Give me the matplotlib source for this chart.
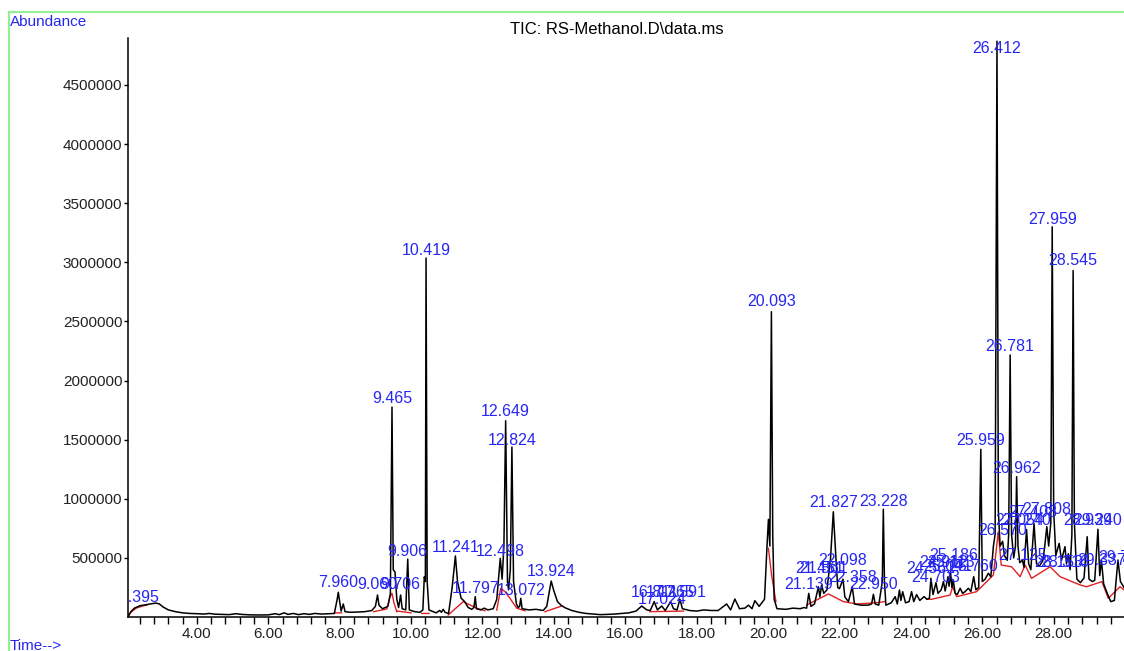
import numpy as np
import matplotlib
matplotlib.use("Agg")
import matplotlib.pyplot as plt
from matplotlib.patches import Rectangle
from matplotlib.ticker import MultipleLocator, FuncFormatter

plt.rcParams['font.family'] = ['Liberation Sans', 'DejaVu Sans']

# TIC trace: retention time (min), abundance (x1000)
trace_t = [2.07, 2.15, 2.25, 2.4, 2.6, 2.85, 2.95, 3.05, 3.2, 3.4, 3.6, 3.8,
           4.0, 4.2, 4.35, 4.5, 4.7, 4.9, 5.1, 5.25, 5.5, 5.8, 6.0, 6.2, 6.3,
           6.45, 6.55, 6.7, 6.85, 7.0, 7.15, 7.3, 7.5, 7.7, 7.85, 7.93, 7.96,
           7.99, 8.04, 8.1, 8.15, 8.3, 8.5, 8.7, 8.9, 9.0, 9.06, 9.1, 9.2,
           9.35, 9.42, 9.465, 9.5, 9.55, 9.6, 9.65, 9.706, 9.75, 9.85, 9.906,
           9.95, 10.1, 10.25, 10.33, 10.37, 10.40, 10.419, 10.45, 10.5, 10.7,
           10.8, 10.85, 10.9, 10.95, 11.05, 11.15, 11.241, 11.3, 11.4, 11.5,
           11.6, 11.7, 11.76, 11.797, 11.83, 11.95, 12.05, 12.15, 12.3, 12.4,
           12.498, 12.55, 12.6, 12.649, 12.7, 12.73, 12.78, 12.824, 12.87,
           12.95, 13.0, 13.04, 13.072, 13.11, 13.3, 13.5, 13.7, 13.8, 13.924,
           14.0, 14.1, 14.2, 14.3, 14.5, 14.7, 14.9, 15.1, 15.3, 15.5, 15.7,
           15.9, 16.1, 16.3, 16.46, 16.6, 16.7, 16.81, 16.9, 17.02, 17.12,
           17.27, 17.35, 17.45, 17.53, 17.6, 17.8, 18.0, 18.2, 18.4, 18.6,
           18.84, 18.95, 19.07, 19.2, 19.35, 19.45, 19.55, 19.63, 19.75, 19.9,
           19.97, 20.01, 20.05, 20.093, 20.13, 20.17, 20.25, 20.5, 20.7, 20.9,
           21.0, 21.08, 21.139, 21.2, 21.3, 21.41, 21.45, 21.5, 21.56, 21.65,
           21.75, 21.827, 21.9, 21.95, 22.0, 22.098, 22.15, 22.25, 22.358,
           22.42, 22.6, 22.8, 22.9, 22.95, 23.0, 23.1, 23.2, 23.228, 23.26,
           23.3, 23.45, 23.56, 23.62, 23.68, 23.72, 23.77, 23.85, 23.95, 24.02,
           24.08, 24.16, 24.25, 24.37, 24.45, 24.52, 24.561, 24.62, 24.703,
           24.76, 24.85, 24.912, 24.96, 25.041, 25.07, 25.113, 25.15, 25.186,
           25.24, 25.3, 25.38, 25.45, 25.52, 25.61, 25.68, 25.76, 25.82, 25.9,
           25.959, 26.0, 26.08, 26.17, 26.24, 26.31, 26.36, 26.412, 26.45,
           26.5, 26.57, 26.62, 26.7, 26.74, 26.781, 26.82, 26.88, 26.93,
           26.962, 27.0, 27.05, 27.125, 27.17, 27.24, 27.3, 27.36, 27.45,
           27.52, 27.6, 27.7, 27.75, 27.808, 27.86, 27.92, 27.959, 28.0, 28.06,
           28.153, 28.22, 28.316, 28.36, 28.41, 28.46, 28.51, 28.545, 28.58,
           28.65, 28.75, 28.85, 28.939, 28.99, 29.08, 29.15, 29.24, 29.29,
           29.337, 29.4, 29.5, 29.6, 29.7, 29.8, 29.87, 29.97]
trace_k = [5, 45, 75, 95, 105, 118, 110, 85, 60, 45, 35, 30,
           28, 25, 30, 24, 22, 20, 28, 22, 18, 17, 18, 28, 20,
           35, 22, 30, 20, 28, 22, 30, 25, 28, 30, 150, 209,
           150, 50, 110, 45, 40, 42, 45, 55, 90, 186, 100, 70,
           90, 200, 1776, 400, 380, 150, 80, 186, 70, 60, 490,
           60, 45, 40, 60, 340, 300, 3036, 300, 60, 35,
           55, 40, 65, 40, 30, 250, 516, 300, 160, 130,
           80, 65, 80, 172, 70, 60, 75, 60, 70, 150,
           496, 320, 600, 1660, 300, 230, 400, 1437, 300,
           110, 80, 90, 158, 70, 60, 65, 55, 90, 304,
           220, 130, 100, 80, 55, 40, 30, 25, 20, 22, 25,
           30, 35, 50, 93, 60, 55, 130, 60, 93, 55,
           130, 70, 60, 150, 70, 55, 50, 60, 55, 55,
           110, 60, 152, 70, 75, 100, 70, 138, 90, 150,
           600, 826, 600, 2582, 700, 150, 70, 65, 75, 70,
           80, 75, 200, 90, 110, 256, 170, 270, 200, 230,
           500, 890, 500, 250, 240, 320, 170, 130, 256,
           110, 100, 100, 110, 192, 110, 100, 300, 911, 300,
           100, 120, 172, 110, 228, 140, 214, 120, 130, 214,
           130, 189, 140, 172, 150, 160, 327, 190, 290,
           200, 230, 300, 220, 341, 260, 370, 250, 313,
           200, 190, 243, 200, 215, 243, 215, 341, 230, 250,
           1418, 300, 320, 370, 340, 595, 700, 4870, 900,
           600, 640, 520, 480, 700, 2216, 700, 500, 600,
           1187, 600, 460, 480, 420, 740, 450, 400, 790,
           450, 430, 480, 600, 764, 600, 800, 3300, 900, 520,
           623, 480, 595, 450, 535, 400, 700, 2930, 800,
           320, 290, 330, 679, 320, 300, 310, 742, 350,
           480, 280, 200, 130, 140, 482, 300, 250]

# integration baselines (red), segments split by None
base_t = [2.07, 2.15, 2.3, 2.5, 2.6, None,
          7.88, 8.05, None,
          8.95, 9.32, 9.41, 9.465, 9.52, 9.6, None,
          9.62, 10.0, None, 10.3, 10.5, None,
          11.04, 11.46, 11.84, 12.07, None,
          12.40, 12.51, 12.63, 12.77, 12.96, 13.19, None,
          13.75, 14.22, None,
          16.69, 17.63, None,
          20.01, 20.1, 20.22, None,
          21.08, 21.69, 22.11, 22.48, 23.04, 23.28, None,
          24.45, 24.58, 25.1, 25.17, 25.28, 25.84, 26.31, 26.45, 26.53,
          26.82, 27.06, 27.2, 27.38, 27.9, 28.18, 28.74, 28.92, 29.35,
          29.53, 29.86, 29.97]
base_k = [0, 40, 75, 95, 100, None,
          35, 35, None,
          45, 68, 170, 200, 120, 45, None,
          50, 35, None, 30, 30, None,
          17, 130, 74, 53, None,
          59, 243, 214, 158, 74, 53, None,
          45, 93, None,
          45, 50, None,
          581, 350, 130, None,
          101, 195, 130, 110, 121, 130, None,
          150, 150, 186, 256, 172, 214, 355, 721, 440,
          425, 341, 440, 327, 425, 341, 271, 256, 299,
          158, 256, 230]

# peak labels: text, x position (min), y position of label centre (x1000)
label_text = ['2.395', '7.960', '9.060', '9.465', '9.706', '9.906', '10.419',
              '11.241', '11.797', '12.498', '12.649', '12.824', '13.072',
              '13.924', '16.811', '17.024', '17.265', '17.591', '20.093',
              '21.139', '21.451', '21.561', '21.827', '22.098', '22.358',
              '22.950', '23.228', '24.561', '24.703', '24.912', '25.041',
              '25.113', '25.186', '25.760', '25.959', '26.412', '26.570',
              '26.781', '26.962', '27.054', '27.125', '27.240', '27.408',
              '27.808', '27.959', '28.153', '28.316', '28.545', '28.939',
              '29.240', '29.337', '29.751']
label_t = [2.395, 7.96, 9.06, 9.465, 9.706, 9.906, 10.419,
           11.241, 11.797, 12.498, 12.649, 12.824, 13.072,
           13.924, 16.811, 17.024, 17.265, 17.591, 20.093,
           21.139, 21.451, 21.561, 21.827, 22.098, 22.358,
           22.95, 23.228, 24.561, 24.703, 24.912, 25.041,
           25.113, 25.186, 25.76, 25.959, 26.412, 26.57,
           26.781, 26.962, 27.054, 27.125, 27.24, 27.408,
           27.808, 27.959, 28.153, 28.316, 28.545, 28.939,
           29.24, 29.337, 29.93]
label_k = [161, 288, 271, 1852, 271, 558, 3100,
           592, 245, 558, 1734, 1497, 228,
           389, 203, 144, 211, 211, 2665,
           271, 414, 414, 965, 482, 330,
           271, 973, 414, 338, 465, 423,
           465, 524, 423, 1497, 4812, 735,
           2292, 1260, 812, 524, 820, 888,
           913, 3358, 465, 465, 3011, 820,
           820, 482, 507]

blue = '#2626f2'
fig = plt.figure(figsize=(11.24, 6.51), dpi=100)
ax = fig.add_axes([128 / 1124, 34 / 651, 996 / 1124, 579 / 651])

ax.plot(trace_t, np.array(trace_k) * 1000, color='black', lw=1.1, zorder=3)
bt = np.array([np.nan if v is None else v for v in base_t], dtype=float)
bk = np.array([np.nan if v is None else v for v in base_k], dtype=float)
ax.plot(bt, bk * 1000, color='#e02020', lw=1.0, zorder=2)

for txt, t, k in zip(label_text, label_t, label_k):
    ax.text(t, k * 1000, txt, color=blue, fontsize=11.5, ha='center',
            va='center', clip_on=True, zorder=4)

ax.set_xlim(2.07, 29.97)
ax.set_ylim(0, 4.897e6)
ax.spines['top'].set_visible(False)
ax.spines['right'].set_visible(False)
for s in ['left', 'bottom']:
    ax.spines[s].set_linewidth(1.1)

ax.set_yticks(np.arange(500000, 4500001, 500000))
ax.yaxis.set_major_formatter(FuncFormatter(lambda v, p: '%d' % v))
ax.xaxis.set_major_locator(MultipleLocator(2))
ax.xaxis.set_minor_locator(MultipleLocator(0.4))
ax.xaxis.set_major_formatter(FuncFormatter(lambda v, p: '%.2f' % v))
ax.set_xticks(np.arange(4, 29, 2))
ax.tick_params(axis='y', length=3, width=1, pad=1, labelsize=11,
               labelcolor='#222222')
ax.tick_params(axis='x', which='both', length=5, width=1, pad=2,
               labelsize=11, labelcolor='#222222')

fig.text(617 / 1124, 1 - 30 / 651, r'TIC: RS-Methanol.D\data.ms',
         fontsize=12, ha='center', va='center')
fig.text(10 / 1124, 1 - 22 / 651, 'Abundance', color=blue, fontsize=11,
         ha='left', va='center')
fig.text(10 / 1124, 1 - 646 / 651, 'Time-->', color=blue, fontsize=11,
         ha='left', va='center')
fig.add_artist(Rectangle((9 / 1124, -0.1), 1.2, 1.1 - 12 / 651,
                         transform=fig.transFigure, fill=False,
                         edgecolor='#94ee94', lw=1.5))

fig.savefig('out.png', dpi=100)
